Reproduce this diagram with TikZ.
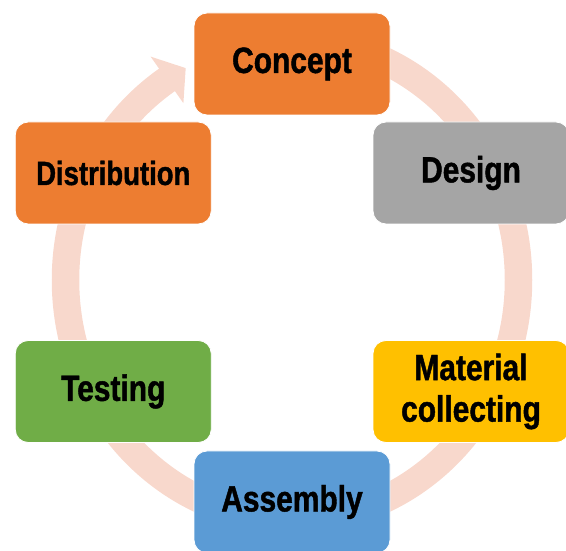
\documentclass[tikz,border=0pt]{standalone}
\usepackage{fontspec}
\setmainfont{Liberation Sans}[FakeStretch=0.82, BoldFeatures={FakeBold=1.2}]
\definecolor{ringc}{HTML}{F8D8CC}
\definecolor{corange}{HTML}{ED7D31}
\definecolor{cgray}{HTML}{A5A5A5}
\definecolor{cyellow}{HTML}{FFC000}
\definecolor{cblue}{HTML}{5B9BD5}
\definecolor{cgreen}{HTML}{70AD47}
\tikzset{
  stagebox/.style={draw=white, line width=0.8pt, rounded corners=13pt,
    minimum width=196pt, minimum height=102pt, inner sep=0pt, align=center,
    font=\fontsize{36.5}{41.5}\selectfont\bfseries, text=black},
  ringband/.style={draw=ringc, line width=27.5pt},
}
\begin{document}
\begin{tikzpicture}[x=1pt,y=1pt]
\useasboundingbox (0,0) rectangle (566,550);
\clip (0,0) rectangle (566,550);
% ring arrow
\draw[ringband] ({292+226.5*cos(90)},{270+240*sin(90)})
  arc[start angle=90, end angle=-237.3, x radius=226.5, y radius=240];
\coordinate (wo) at (150.6,493.4);
\coordinate (wi) at (183.4,446.8);
\coordinate (tip) at (185.7,481.9);
\fill[ringc] (wo) -- (tip) -- (wi) -- cycle;
% stages
\node[stagebox, fill=corange] (concept) at (292,486) {Concept};
\node[stagebox, fill=cgray] (design) at (471,377) {Design};
\node[stagebox, fill=cyellow] (material) at (471,158.5) {Material\\collecting};
\node[stagebox, fill=cblue] (assembly) at (292,48) {Assembly};
\node[stagebox, fill=cgreen] (testing) at (113.25,158.5) {Testing};
\node[stagebox, fill=corange, font=\fontsize{33.5}{38}\selectfont\bfseries] (distribution) at (113.25,377) {Distribution};
\end{tikzpicture}
\end{document}
